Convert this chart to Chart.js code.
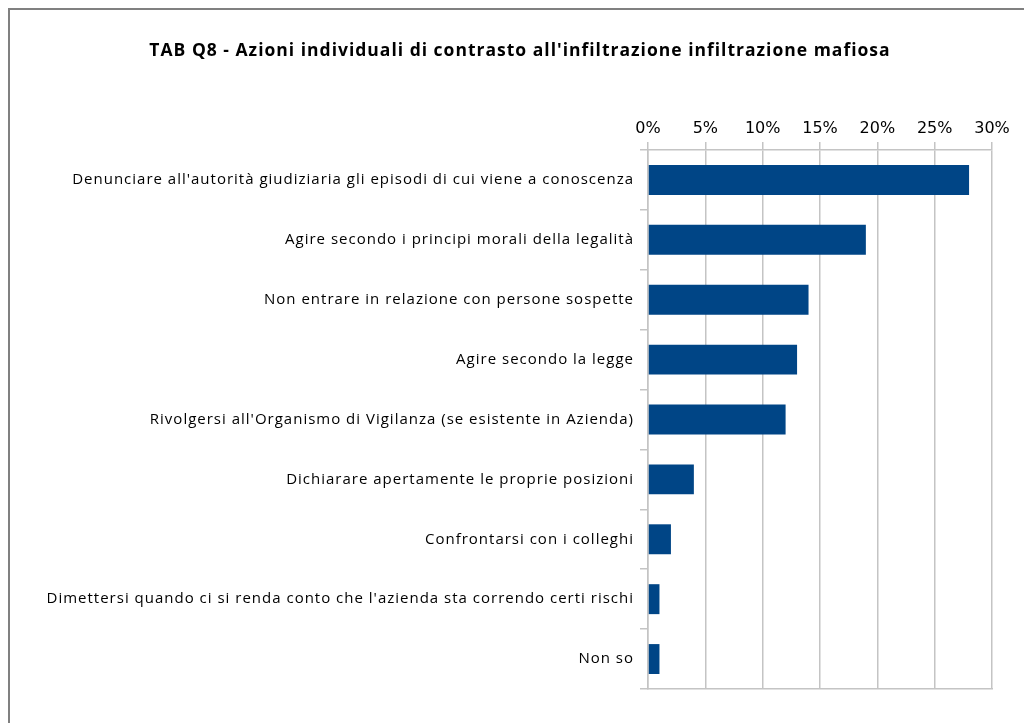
<!DOCTYPE html>
<html>
<head>
<meta charset="utf-8">
<script src="https://cdn.jsdelivr.net/npm/chart.js@4"></script>
<style>
  body { margin: 0; background: #fff; }
  #frame { position: absolute; left: 8px; top: 8px; width: 1100px; height: 800px;
           border-left: 2px solid #808080; border-top: 2px solid #808080; }
  #wrap { position: absolute; left: 0; top: 0; width: 1024px; height: 723px; }
</style>
</head>
<body>
<div id="frame"></div>
<div id="wrap"><canvas id="chart"></canvas></div>
<script>
'use strict';

var ctx = document.getElementById('chart').getContext('2d');

var labels = [
  'Denunciare all\'autorità giudiziaria gli episodi di cui viene a conoscenza',
  'Agire secondo i principi morali della legalità',
  'Non entrare in relazione con persone sospette',
  'Agire secondo la legge',
  'Rivolgersi all\'Organismo di Vigilanza (se esistente in Azienda)',
  'Dichiarare apertamente le proprie posizioni',
  'Confrontarsi con i colleghi',
  'Dimettersi quando ci si renda conto che l\'azienda sta correndo certi rischi',
  'Non so'
];
var values = [28, 19, 14, 13, 12, 4, 2, 1, 1];
var xTicks = [0, 5, 10, 15, 20, 25, 30];

var titleText = 'TAB Q8 - Azioni individuali di contrasto all\'infiltrazione infiltrazione mafiosa';

var lineColor = '#c4c4c4';

// loose letter spacing for title and category labels
var spacing = {
  id: 'spacing',
  beforeDraw: function (chart) {
    chart.ctx.letterSpacing = '1px';
  }
};

// percent labels on top keep normal spacing
function plainLabels(scale) {
  if (scale._plain) return;
  scale._plain = true;
  var orig = scale.drawLabels;
  scale.drawLabels = function (area) {
    var c = this.ctx;
    var ls = c.letterSpacing;
    c.letterSpacing = '0px';
    orig.call(this, area);
    c.letterSpacing = ls;
  };
}

var chart = new Chart(ctx, {
  type: 'bar',
  data: {
    labels: labels,
    datasets: [{
      data: values,
      backgroundColor: '#004586',
      barPercentage: 0.5,
      categoryPercentage: 1
    }]
  },
  options: {
    indexAxis: 'y',
    responsive: true,
    maintainAspectRatio: false,
    animation: false,
    layout: { padding: { left: 48, right: 32, top: 0, bottom: 34 } },
    plugins: {
      legend: { display: false },
      tooltip: { enabled: false },
      title: {
        display: true,
        text: titleText,
        color: '#000',
        font: { family: 'Open Sans', size: 17.5, weight: 'bold' },
        padding: { top: 41, bottom: 0 }
      }
    },
    scales: {
      x: {
        position: 'top',
        min: 0,
        max: 30,
        afterBuildTicks: function (scale) {
          scale.ticks = xTicks.map(function (v) { return { value: v }; });
        },
        afterFit: function (scale) {
          scale.height = 88;
          plainLabels(scale);
        },
        ticks: {
          color: '#000',
          padding: 4,
          font: { family: 'DejaVu Sans', size: 16 },
          callback: function (v) { return v + '%'; }
        },
        grid: { color: lineColor, lineWidth: 1.5, tickLength: 8 },
        border: { color: lineColor, width: 1.5 }
      },
      // bottom edge line of the plot
      xBottom: {
        axis: 'x',
        position: 'bottom',
        min: 0,
        max: 30,
        afterFit: function (scale) { scale.height = 0; },
        ticks: { display: false },
        grid: { display: false, drawTicks: false },
        border: { display: true, color: lineColor, width: 1.5 }
      },
      y: {
        afterFit: function (scale) { scale.width = 600; },
        ticks: {
          color: '#000',
          padding: 6,
          font: { family: 'Open Sans', size: 15 }
        },
        grid: { color: lineColor, lineWidth: 1.5, drawOnChartArea: false, tickLength: 8 },
        border: { color: lineColor, width: 1.5 }
      }
    }
  },
  plugins: [spacing]
});
</script>
</body>
</html>
